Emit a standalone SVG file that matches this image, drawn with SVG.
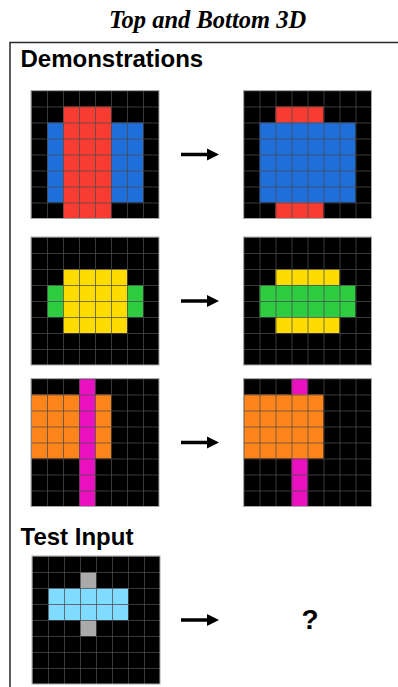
<svg xmlns="http://www.w3.org/2000/svg" width="398" height="687" viewBox="0 0 398 687">
  <style>
    .title { font-family: "Liberation Serif", "Times New Roman", serif; font-weight: bold; font-style: italic; font-size: 24.5px; fill: #000; }
    .heading { font-family: "Liberation Sans", Arial, sans-serif; font-weight: bold; font-size: 24px; fill: #000; }
    .qmark { font-family: "Liberation Sans", Arial, sans-serif; font-weight: bold; font-size: 28px; fill: #000; }
    .bg { fill: #000; }
    .lines { fill: url(#cells); stroke: #a8a8a8; stroke-width: 1; }
    .k1 { fill: #1E6FD9; }
    .k2 { fill: #F93C31; }
    .k3 { fill: #2ECC40; }
    .k4 { fill: #FFDC00; }
    .k5 { fill: #AAAAAA; }
    .k6 { fill: #E911C0; }
    .k7 { fill: #FF851B; }
    .k8 { fill: #7FDBFF; }
    .arrow { stroke: #000; stroke-width: 3.5; fill: none; marker-end: url(#head); }
    .frame { stroke: #2a2a2a; stroke-width: 1.5; fill: none; }
  </style>
  <defs>
    <!-- one 16px cell outline, tiled across every grid -->
    <pattern id="cells" patternUnits="userSpaceOnUse" width="16" height="16">
      <path d="M0 0.5 H16 M0.5 0 V16" stroke="#4a4a4a" stroke-opacity="0.75" stroke-width="1" fill="none"/>
    </pattern>
    <marker id="head" markerUnits="userSpaceOnUse" markerWidth="13" markerHeight="13" refX="1" refY="6.5" orient="auto">
      <path d="M0,0.5 L12,6.5 L0,12.5 z" fill="#000"/>
    </marker>
  </defs>

  <rect width="398" height="687" fill="#fff"/>

  <text class="title" x="207.5" y="28" text-anchor="middle">Top and Bottom 3D</text>
  <path class="frame" d="M10 687 V42.5 H398"/>

  <text class="heading" x="20.5" y="67">Demonstrations</text>
  <text class="heading" x="20.5" y="545">Test Input</text>

  <!-- pair 1: input -->
  <g id="demo1-input" transform="translate(31,90.5)">
    <rect class="bg" width="128" height="128"/>
    <rect class="k2" x="32" y="16" width="48" height="112"/>
    <rect class="k1" x="16" y="32" width="16" height="80"/>
    <rect class="k1" x="80" y="32" width="32" height="80"/>
    <rect class="lines" width="128" height="128"/>
  </g>
  <!-- pair 1: output -->
  <g id="demo1-output" transform="translate(243.5,90.5)">
    <rect class="bg" width="128" height="128"/>
    <rect class="k2" x="32" y="16" width="48" height="112"/>
    <rect class="k1" x="16" y="32" width="96" height="80"/>
    <rect class="lines" width="128" height="128"/>
  </g>

  <!-- pair 2: input -->
  <g id="demo2-input" transform="translate(31,237)">
    <rect class="bg" width="128" height="128"/>
    <rect class="k4" x="32" y="32" width="64" height="64"/>
    <rect class="k3" x="16" y="48" width="16" height="32"/>
    <rect class="k3" x="96" y="48" width="16" height="32"/>
    <rect class="lines" width="128" height="128"/>
  </g>
  <!-- pair 2: output -->
  <g id="demo2-output" transform="translate(243.5,237)">
    <rect class="bg" width="128" height="128"/>
    <rect class="k4" x="32" y="32" width="64" height="64"/>
    <rect class="k3" x="16" y="48" width="96" height="32"/>
    <rect class="lines" width="128" height="128"/>
  </g>

  <!-- pair 3: input -->
  <g id="demo3-input" transform="translate(31,378.5)">
    <rect class="bg" width="128" height="128"/>
    <rect class="k7" x="0" y="16" width="80" height="64"/>
    <rect class="k6" x="48" y="0" width="16" height="128"/>
    <rect class="lines" width="128" height="128"/>
  </g>
  <!-- pair 3: output -->
  <g id="demo3-output" transform="translate(243.5,378.5)">
    <rect class="bg" width="128" height="128"/>
    <rect class="k6" x="48" y="0" width="16" height="128"/>
    <rect class="k7" x="0" y="16" width="80" height="64"/>
    <rect class="lines" width="128" height="128"/>
  </g>

  <!-- test input -->
  <g id="test-input" transform="translate(32,556)">
    <rect class="bg" width="128" height="128"/>
    <rect class="k5" x="48" y="16" width="16" height="64"/>
    <rect class="k8" x="16" y="32" width="80" height="32"/>
    <rect class="lines" width="128" height="128"/>
  </g>
  <g id="test-output">
    <text class="qmark" x="310" y="629" text-anchor="middle">?</text>
  </g>

  <g id="connectors">
    <line class="arrow" x1="181" y1="154.5" x2="208" y2="154.5"/>
    <line class="arrow" x1="181" y1="301" x2="208" y2="301"/>
    <line class="arrow" x1="181" y1="442.5" x2="208" y2="442.5"/>
    <line class="arrow" x1="181" y1="620" x2="208" y2="620"/>
  </g>
</svg>
